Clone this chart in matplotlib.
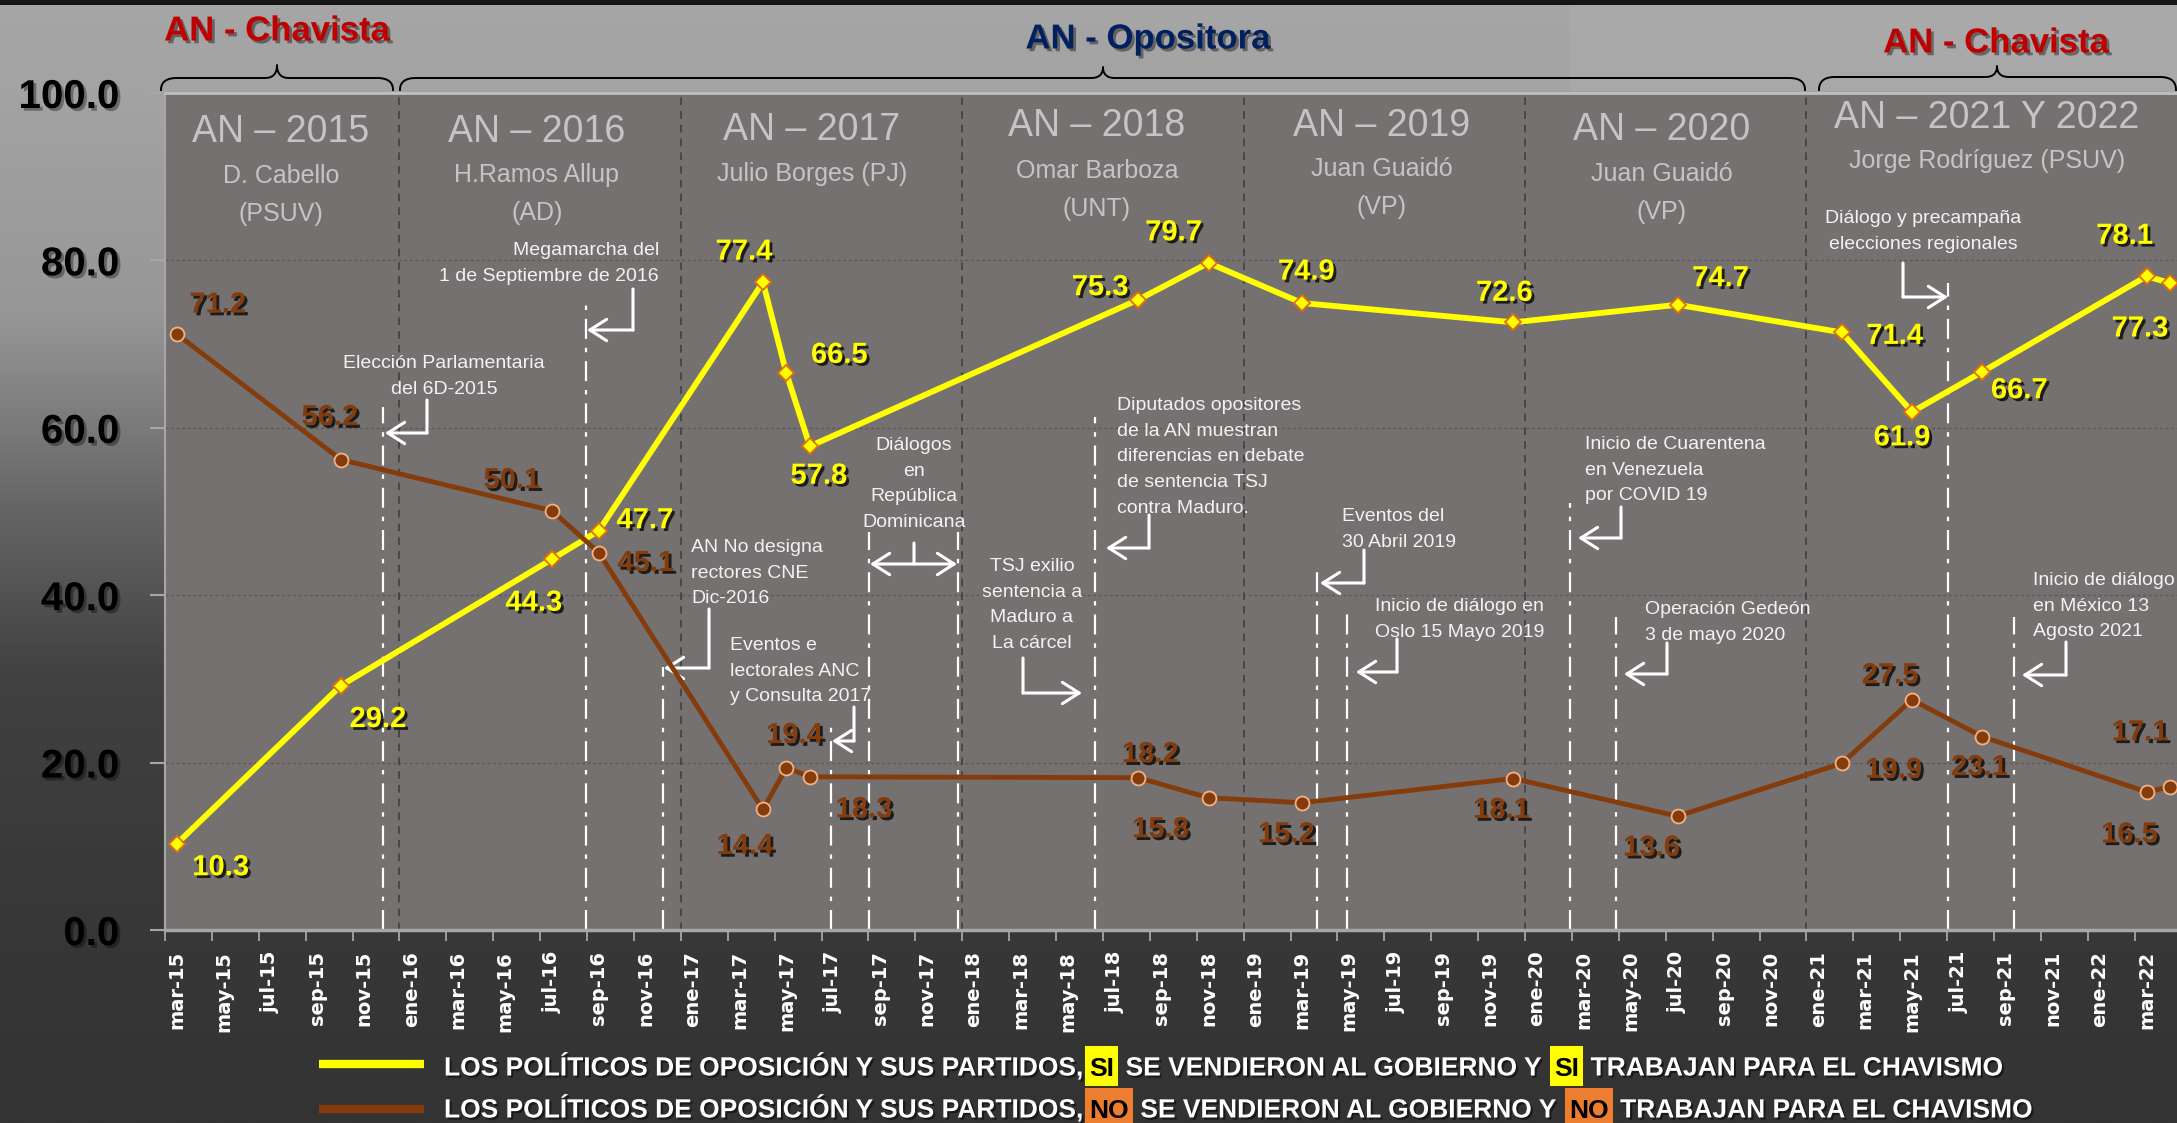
import numpy as np
import matplotlib
matplotlib.use('Agg')
import matplotlib.pyplot as plt
import matplotlib.patheffects as pe
from matplotlib.patches import Rectangle
from matplotlib.lines import Line2D
from matplotlib.font_manager import fontManager

W, H = 2177, 1123

# ---------------- data ----------------
month_labels = ['mar-15', 'may-15', 'jul-15', 'sep-15', 'nov-15',
                'ene-16', 'mar-16', 'may-16', 'jul-16', 'sep-16', 'nov-16',
                'ene-17', 'mar-17', 'may-17', 'jul-17', 'sep-17', 'nov-17',
                'ene-18', 'mar-18', 'may-18', 'jul-18', 'sep-18', 'nov-18',
                'ene-19', 'mar-19', 'may-19', 'jul-19', 'sep-19', 'nov-19',
                'ene-20', 'mar-20', 'may-20', 'jul-20', 'sep-20', 'nov-20',
                'ene-21', 'mar-21', 'may-21', 'jul-21', 'sep-21', 'nov-21',
                'ene-22', 'mar-22']

survey_dates = ['2015-03', '2015-10', '2016-07', '2016-09', '2017-04', '2017-05',
                '2017-06', '2018-08', '2018-11', '2019-03', '2019-12', '2020-07',
                '2021-02', '2021-05', '2021-08', '2022-03', '2022-04']
si_values = [10.3, 29.2, 44.3, 47.7, 77.4, 66.5, 57.8, 75.3, 79.7, 74.9, 72.6,
             74.7, 71.4, 61.9, 66.7, 78.1, 77.3]
no_values = [71.2, 56.2, 50.1, 45.1, 14.4, 19.4, 18.3, 18.2, 15.8, 15.2, 18.1,
             13.6, 19.9, 27.5, 23.1, 16.5, 17.1]

year_starts = ['2016-01', '2017-01', '2018-01', '2019-01', '2020-01', '2021-01']

# event lines: position in months since mar-15, and top value
event_x = [8.78, 17.44, 20.72, 27.89, 29.51, 33.3, 39.15, 48.61, 49.9, 59.4, 61.37, 75.52, 78.34]
event_top = [62.5, 75.5, 31.4, 24.5, 47.6, 47.6, 61.3, 42.8, 37.9, 51.0, 37.4, 77.3, 37.4]

period_titles = ['AN – 2015', 'AN – 2016', 'AN – 2017', 'AN – 2018', 'AN – 2019',
                 'AN – 2020', 'AN – 2021 Y 2022']
period_leaders = [['D. Cabello', '(PSUV)'], ['H.Ramos Allup', '(AD)'], ['Julio Borges (PJ)'],
                  ['Omar Barboza', '(UNT)'], ['Juan Guaidó', '(VP)'], ['Juan Guaidó', '(VP)'],
                  ['Jorge Rodríguez (PSUV)']]

event_texts = [
    ['Elección Parlamentaria', 'del 6D-2015'],
    ['Megamarcha del', '1 de Septiembre de 2016'],
    ['AN No designa', 'rectores CNE', 'Dic-2016'],
    ['Eventos e', 'lectorales ANC', 'y Consulta 2017'],
    ['Diálogos', 'en', 'República', 'Dominicana'],
    ['TSJ exilio', 'sentencia a', 'Maduro a', 'La cárcel'],
    ['Diputados opositores', 'de la AN muestran', 'diferencias en debate',
     'de sentencia TSJ', 'contra Maduro.'],
    ['Eventos del', '30 Abril 2019'],
    ['Inicio de diálogo en', 'Oslo 15 Mayo 2019'],
    ['Inicio de Cuarentena', 'en Venezuela', 'por COVID 19'],
    ['Operación Gedeón', '3 de mayo 2020'],
    ['Diálogo y precampaña', 'elecciones regionales'],
    ['Inicio de diálogo', 'en México 13', 'Agosto 2021'],
]

legend_si = [('LOS POLÍTICOS DE OPOSICIÓN Y SUS PARTIDOS,', None), ('SI', '#FFFF00'),
             (' SE VENDIERON AL GOBIERNO Y', None), ('SI', '#FFFF00'),
             (' TRABAJAN PARA EL CHAVISMO', None)]
legend_no = [('LOS POLÍTICOS DE OPOSICIÓN Y SUS PARTIDOS,', None), ('NO', '#ED7D31'),
             (' SE VENDIERON AL GOBIERNO Y', None), ('NO', '#ED7D31'),
             (' TRABAJAN PARA EL CHAVISMO', None)]

# ---------------- layout / style ----------------
si_offsets = [(44, -21), (37, -31), (-18, -41), (46, 13), (-19, 33), (53, 21), (9, -27),
              (-38, 15), (-35, 33), (4, 34), (-9, 32), (43, 29), (53, -1), (-10, -23),
              (37, -16), (-22, 43), (-30, -43)]
no_offsets = [(41, 32), (-11, 45), (-40, 33), (47, -8), (-18, -34), (8, 35), (54, -30),
              (12, 26), (-48, -29), (-16, -29), (-12, -29), (-26, -29), (52, -4),
              (-22, 27), (-3, -28), (-17, -40), (-30, 57)]

title_pos = [(281, 128), (537, 128), (812, 127), (1097, 123), (1382, 122), (1662, 127), (1987, 115)]
leader_y = [174, 173, 172, 169, 167, 172, 159]

event_text_pos = [(444, 361, 'center'), (659, 248, 'right'), (691, 545, 'left'),
                  (730, 643, 'left'), (914, 443, 'center'), (1032, 564, 'center'),
                  (1117, 403, 'left'), (1342, 514, 'left'), (1375, 604, 'left'),
                  (1585, 442, 'left'), (1645, 607, 'left'), (1923, 216, 'center'),
                  (2033, 578, 'left')]
arrows = [((427, 400), (427, 433), (385, 433)),
          ((633, 289), (633, 330), (587, 330)),
          ((709, 609), (709, 668), (664, 668)),
          ((854, 707), (854, 741), (832, 741)),
          ((1023, 658), (1023, 693), (1082, 693)),
          ((1149, 515), (1149, 548), (1106, 548)),
          ((1364, 550), (1364, 583), (1320, 583)),
          ((1397, 639), (1397, 672), (1356, 672)),
          ((1621, 507), (1621, 538), (1578, 538)),
          ((1667, 643), (1667, 674), (1624, 674)),
          ((1903, 263), (1903, 297), (1948, 297)),
          ((2066, 642), (2066, 675), (2022, 675))]


def midx(s):
    y, m = s.split('-')
    return (int(y) - 2015) * 12 + int(m) - 3


avail = {f.name for f in fontManager.ttflist}
MAIN = 'Liberation Sans' if 'Liberation Sans' in avail else 'DejaVu Sans'
plt.rcParams['font.family'] = [MAIN, 'DejaVu Sans']

fig = plt.figure(figsize=(W / 100, H / 100), dpi=100)

# background gradient
bg = fig.add_axes([0, 0, 1, 1], zorder=-10)
stops_f = [0.0, 0.08, 0.28, 0.45, 0.6, 0.8, 1.0]
stops_v = [0.65, 0.64, 0.59, 0.40, 0.255, 0.22, 0.2]
g = np.interp(np.linspace(0, 1, H), stops_f, stops_v)
img = np.repeat(g[:, None], 2, axis=1)
bg.imshow(np.dstack([img] * 3), aspect='auto', extent=[0, 1, 0, 1], origin='upper',
          interpolation='bilinear')
bg.add_patch(Rectangle((1570 / W, 1 - 91 / H), (W - 1570) / W, 87 / H, color='#B0B0B0', alpha=0.45, lw=0))
bg.add_patch(Rectangle((0, 1 - 5 / H), 1, 5 / H, color='#161616', lw=0))
bg.set_xlim(0, 1)
bg.set_ylim(0, 1)
bg.axis('off')

PX_PER_MONTH = 23.45
ax = fig.add_axes([165 / W, (H - 930) / H, (W - 165) / W, 837 / H])
ax.set_facecolor('#767171')
ax.set_xlim(-0.5, -0.5 + (W - 165) / PX_PER_MONTH)
ax.set_ylim(0, 100)

# gridlines
for v in [20, 40, 60, 80]:
    ax.axhline(v, color='#5C5858', lw=1.0, ls=(0, (2, 2)), zorder=1)
for ys in year_starts:
    ax.axvline(midx(ys) - 0.5, color='#3C3C3C', lw=1.1, ls=(0, (5, 4)), zorder=1)
ax.vlines(event_x, 0, event_top, color='white', lw=1.6, ls=(0, (9, 4, 2, 4)), zorder=2)

# series
xs = [midx(d) for d in survey_dates]
ax.plot(xs, si_values, color='#FFFF00', lw=4.2, marker='D', ms=8.5, mfc='#FFFF00',
        mec='#E46C0A', mew=1.3, zorder=5, solid_joinstyle='miter')
ax.plot(xs, no_values, color='#843C0C', lw=3.5, marker='o', ms=10, mfc='#843C0C',
        mec='#F4B183', mew=1.3, zorder=6)

LBL = 21
shadow = [pe.SimplePatchShadow(offset=(2, -2), shadow_rgbFace='black', alpha=0.75), pe.Normal()]
for x, v, (dx, dy) in zip(xs, si_values, si_offsets):
    ax.annotate(f'{v:.1f}', (x, v), xytext=(dx, dy - LBL / 2), textcoords='offset pixels',
                ha='center', va='baseline', fontsize=LBL, fontweight='bold', color='#FFFF00',
                path_effects=shadow, zorder=8)
for x, v, (dx, dy) in zip(xs, no_values, no_offsets):
    ax.annotate(f'{v:.1f}', (x, v), xytext=(dx, dy - LBL / 2), textcoords='offset pixels',
                ha='center', va='baseline', fontsize=LBL, fontweight='bold', color='#843C0C',
                path_effects=shadow, zorder=8)

# axes styling
ax.set_xticks(np.arange(-0.5, 84, 2))
ax.set_xticklabels([])
ax.set_xticks(np.arange(0, 2 * len(month_labels), 2), minor=True)
ax.set_xticklabels(month_labels, minor=True, rotation=90, fontsize=14,
                   fontweight='bold', color='white', family='DejaVu Sans')
ax.tick_params(axis='x', which='major', length=8, width=1.3, color='#A6A6A6', direction='out')
ax.tick_params(axis='x', which='minor', length=0, pad=15)
ax.set_yticks([0, 20, 40, 60, 80, 100])
ax.set_yticklabels(['0.0', '20.0', '40.0', '60.0', '80.0', '100.0'], fontsize=29,
                   fontweight='bold', color='black')
ax.tick_params(axis='y', length=11, width=1.5, color='#A6A6A6', pad=22)
for lbl in ax.get_yticklabels():
    lbl.set_path_effects([pe.SimplePatchShadow(offset=(2, -2), shadow_rgbFace='black', alpha=0.35), pe.Normal()])
ax.spines['right'].set_visible(False)
ax.spines['left'].set_color('#A6A6A6')
ax.spines['left'].set_linewidth(1.5)
ax.spines['bottom'].set_color('#A6A6A6')
ax.spines['bottom'].set_linewidth(2.5)
ax.spines['top'].set_color('#BFBFBF')
ax.spines['top'].set_linewidth(2)


def ftext(x, y, s, **kw):
    return fig.text(x / W, 1 - y / H, s, **kw)


# period headers
for (cx, cy), t, lead, ly in zip(title_pos, period_titles, period_leaders, leader_y):
    ftext(cx, cy + 13.5, t, fontsize=27, color='#C4C4C4', ha='center', va='baseline')
    for i, s in enumerate(lead):
        ftext(cx, ly + 38 * i + 9, s, fontsize=18, color='#C4C4C4', ha='center', va='baseline')

# event texts
EFS = 14
for lines, (tx, ty, ha) in zip(event_texts, event_text_pos):
    for i, s in enumerate(lines):
        ftext(tx, ty + 25.7 * i + EFS / 2, s, fontsize=EFS, color='#F2F2F2', ha=ha, va='baseline')

# arrows
aprops = dict(arrowstyle='->,head_length=0.55,head_width=0.35', color='white', lw=2.2,
              shrinkA=0, shrinkB=0, mutation_scale=22)
for top, corner, tip in arrows:
    ax.annotate('', xy=(corner[0], H - corner[1]), xytext=(top[0], H - top[1]),
                xycoords='figure pixels', textcoords='figure pixels',
                arrowprops=dict(arrowstyle='-', color='white', lw=2.2, shrinkA=0, shrinkB=0))
    ax.annotate('', xy=(tip[0], H - tip[1]), xytext=(corner[0], H - corner[1]),
                xycoords='figure pixels', textcoords='figure pixels', arrowprops=aprops)
ax.annotate('', xy=(914, H - 564), xytext=(914, H - 543), xycoords='figure pixels',
            textcoords='figure pixels',
            arrowprops=dict(arrowstyle='-', color='white', lw=2.2, shrinkA=0, shrinkB=0))
ax.annotate('', xy=(957, H - 564), xytext=(870, H - 564), xycoords='figure pixels',
            textcoords='figure pixels',
            arrowprops=dict(arrowstyle='<->,head_length=0.55,head_width=0.35', color='white',
                            lw=2.2, shrinkA=0, shrinkB=0, mutation_scale=22))

# top group headers and braces
hshadow = [pe.SimplePatchShadow(offset=(2, -2), shadow_rgbFace='black', alpha=0.4), pe.Normal()]
ftext(277, 28 + 12.5, 'AN - Chavista', fontsize=25, fontweight='bold', color='#C00000',
      ha='center', va='baseline', path_effects=hshadow)
ftext(1148, 36 + 12.5, 'AN - Opositora', fontsize=25, fontweight='bold', color='#002060',
      ha='center', va='baseline', path_effects=hshadow)
ftext(1996, 40 + 12.5, 'AN - Chavista', fontsize=25, fontweight='bold', color='#C00000',
      ha='center', va='baseline', path_effects=hshadow)


def brace(x0, x1, xt, ybase, ytip, yend, r=16, rt=12):
    def qb(p0, p1, p2, n=16):
        t = np.linspace(0, 1, n)[:, None]
        p0, p1, p2 = map(np.array, (p0, p1, p2))
        return (1 - t) ** 2 * p0 + 2 * (1 - t) * t * p1 + t ** 2 * p2
    pts = np.vstack([qb((x0, yend), (x0, ybase), (x0 + r, ybase)),
                     qb((xt - rt, ybase), (xt, ybase), (xt, ytip)),
                     qb((xt, ytip), (xt, ybase), (xt + rt, ybase)),
                     qb((x1 - r, ybase), (x1, ybase), (x1, yend))])
    fig.add_artist(Line2D(pts[:, 0] / W, 1 - pts[:, 1] / H, color='black', lw=1.4,
                          transform=fig.transFigure))


brace(161, 393, 277, 78, 65, 90)
brace(400, 1805, 1103, 78, 67, 90)
brace(1819, 2176, 1997, 77, 66, 90)

# legend
fig.add_artist(Line2D([319 / W, 424 / W], [1 - 1064 / H] * 2, color='#FFFF00', lw=6,
                      transform=fig.transFigure, solid_capstyle='butt'))
fig.add_artist(Line2D([319 / W, 424 / W], [1 - 1109 / H] * 2, color='#843C0C', lw=6,
                      transform=fig.transFigure, solid_capstyle='butt'))

renderer = fig.canvas.get_renderer()
LFS = 19
gaps = [2, 9]


def seq_text(x, yc, pieces):
    base = yc + 0.5 * LFS
    nbox = 0
    for s, box in pieces:
        if box is None:
            t = ftext(x, base, s, color='white', fontsize=LFS, fontweight='bold',
                      ha='left', va='baseline',
                      path_effects=[pe.SimplePatchShadow(offset=(1.5, -1.5), shadow_rgbFace='black', alpha=0.5), pe.Normal()])
            x += t.get_window_extent(renderer).width
        else:
            x += gaps[nbox]
            nbox += 1
            t = ftext(x + 4, base, s, color='black', fontsize=LFS, fontweight='bold',
                      ha='left', va='baseline', zorder=5)
            w = t.get_window_extent(renderer).width
            fig.add_artist(Rectangle((x / W, 1 - (yc + 20) / H), (w + 8) / W, 40 / H,
                                     transform=fig.transFigure, fc=box, ec='none', zorder=4))
            x += w + 8


seq_text(444, 1066, legend_si)
seq_text(444, 1108, legend_no)

fig.savefig('out.png', dpi=100)
